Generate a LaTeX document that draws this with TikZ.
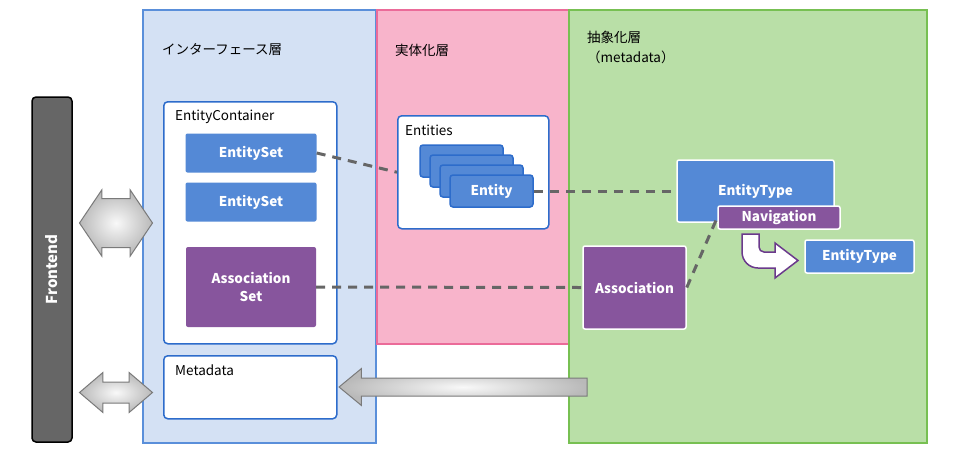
\documentclass[tikz,border=0pt]{standalone}
\usepackage{fontspec}
\setmainfont{Noto Sans CJK JP}
\usetikzlibrary{shapes.arrows}

\definecolor{ifblue}{HTML}{D4E1F4}
\definecolor{ifline}{HTML}{5A8FDA}
\definecolor{rlpink}{HTML}{F8B4CB}
\definecolor{rlline}{HTML}{EB6B99}
\definecolor{algreen}{HTML}{B9DFA7}
\definecolor{alline}{HTML}{77C052}
\definecolor{boxline}{HTML}{2D6CCB}
\definecolor{entblue}{HTML}{5489D6}
\definecolor{assocpurple}{HTML}{87559D}
\definecolor{navline}{HTML}{6B3A8C}
\definecolor{linkgray}{HTML}{666666}
\definecolor{frontgray}{HTML}{666666}
\definecolor{arrowline}{HTML}{7A7A7A}

\tikzset{
  layer/.style={rectangle, anchor=north west, line width=1.5pt, inner sep=0pt},
  title/.style={anchor=west, inner sep=0pt, font=\fontsize{13.5}{20}\selectfont, align=left},
  group/.style={rectangle, anchor=north west, rounded corners=4pt, draw=boxline, fill=white, line width=1.5pt, inner sep=0pt},
  grouplabel/.style={anchor=west, inner sep=0pt, font=\fontsize{13.5}{15}\selectfont},
  ent/.style={rectangle, rounded corners=2pt, fill=entblue, text=white, inner sep=0pt, font=\bfseries\fontsize{13.5}{18}\selectfont, align=center},
  assoc/.style={ent, fill=assocpurple},
  link/.style={draw=linkgray, line width=3pt, dash pattern=on 9pt off 7pt},
  fatarrow/.style={draw=arrowline, line width=1pt, inner color=gray!5, outer color=gray!55, inner xsep=0pt}
}

\begin{document}
\begin{tikzpicture}[x=1pt,y=-1pt]
  \useasboundingbox (0,0) rectangle (953,459);

  % layers
  \node[layer, fill=ifblue, draw=ifline, minimum width=233pt, minimum height=433pt] (ifl) at (142,9) {};
  \node[layer, fill=rlpink, draw=rlline, minimum width=192pt, minimum height=334pt] (rl) at (376,9) {};
  \node[layer, fill=algreen, draw=alline, minimum width=358pt, minimum height=433pt] (al) at (568,9) {};
  \node[title] (ifltitle) at (162,50) {インターフェース層};
  \node[title] (rltitle) at (395,50) {実体化層};
  \node[title] (altitle) at (587,47) {抽象化層\\（metadata）};

  % frontend
  \node[rectangle, rounded corners=4pt, fill=frontgray, draw=black, line width=1.5pt, minimum width=40pt, minimum height=345pt] (front) at (52,269.5) {};
  \node[rotate=90, text=white, font=\bfseries\fontsize{15}{18}\selectfont] (fronttext) at (front) {Frontend};

  % interface layer
  \node[group, minimum width=173pt, minimum height=242pt] (ec) at (163,101) {};
  \node[grouplabel] (ectext) at ([shift={(12,16)}]ec.north west) {EntityContainer};
  \node[ent, minimum width=131pt, minimum height=39pt] (es1) at (251,153) {EntitySet};
  \node[ent, minimum width=131pt, minimum height=39pt] (es2) at (251,202) {EntitySet};
  \node[assoc, minimum width=130pt, minimum height=80pt] (as) at (251,287) {Association\\Set};
  \node[group, minimum width=173pt, minimum height=63pt] (md) at (163,355) {};
  \node[grouplabel] (mdtext) at ([shift={(12,15)}]md.north west) {Metadata};

  % entities
  \node[group, minimum width=151pt, minimum height=113pt] (ents) at (397,115) {};
  \node[grouplabel] (entstext) at ([shift={(8,15)}]ents.north west) {Entities};
  \foreach \i/\t in {0/,1/,2/,3/Entity}
    \node[ent, draw=boxline, line width=1.5pt, rounded corners=3pt, minimum width=83pt, minimum height=32pt] (e\i) at (461.5+10*\i,161+10*\i) {\t};

  % metadata layer
  \node[ent, draw=white, line width=1.5pt, minimum width=157pt, minimum height=62pt] (et) at (755.5,191) {EntityType};
  \node[assoc, draw=white, line width=1.5pt, minimum width=122pt, minimum height=23pt] (nav) at (779,217.5) {Navigation};
  \node[ent, draw=white, line width=1.5pt, minimum width=109pt, minimum height=33pt] (et2) at (859.5,256.5) {EntityType};
  \node[assoc, draw=white, line width=1.5pt, minimum width=103pt, minimum height=83pt] (assoc) at (634.5,287.5) {Association};

  \draw[draw=navline, line width=1.5pt, fill=white]
    (742,234) -- (759,234) -- (759,247) arc[start angle=180, end angle=270, radius=5pt]
    -- (775,252) -- (775,243) -- (798,260.5) -- (775,278) -- (775,268) -- (758,268)
    arc[start angle=270, end angle=180, radius=16pt] -- cycle;

  % links
  \draw[link] (es1.east) -- (ents.west);
  \draw[link] (e3.east) -- (et.west);
  \draw[link] (as.east) -- (assoc.west);
  \draw[link] (assoc.east) -- (nav.west);

  % fat arrows
  \node[fatarrow, double arrow, double arrow tip angle=112, double arrow head extend=8.5pt, inner ysep=24pt, minimum height=73pt] (fe2ec) at (116,223) {};
  \node[fatarrow, double arrow, double arrow tip angle=81, double arrow head extend=9.5pt, inner ysep=10pt, minimum height=73pt] (fe2md) at (116,392.5) {};
  \node[fatarrow, single arrow, shape border rotate=180, single arrow tip angle=79, single arrow head extend=9.5pt, inner ysep=8.5pt, minimum height=248pt] (al2md) at (468.5,387) {};
\end{tikzpicture}
\end{document}
